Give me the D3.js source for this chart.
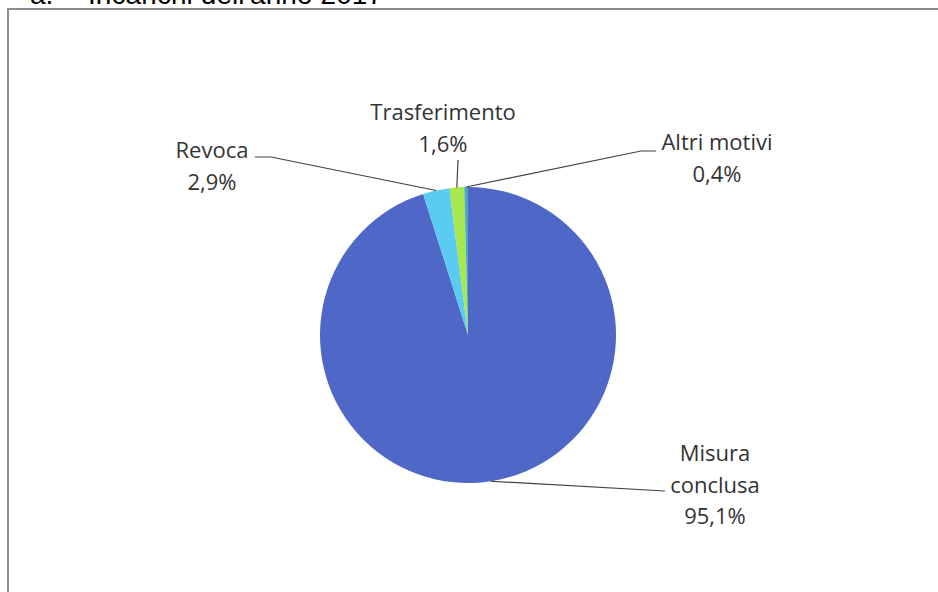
<!DOCTYPE html>
<html>
<head>
<meta charset="utf-8">
<script src="https://cdn.jsdelivr.net/npm/d3@7"></script>
<style>
  body { margin: 0; background: #fff; }
  svg { display: block; }
</style>
</head>
<body>
<script>
// data
var categories = ["Misura conclusa", "Revoca", "Trasferimento", "Altri motivi"];
var values = [95.1, 2.9, 1.6, 0.4];
var valueLabels = ["95,1%", "2,9%", "1,6%", "0,4%"];
var colors = ["#4f68c8", "#5ccbf2", "#a7e84f", "#4ba9c6"];

var W = 938, H = 592;
var cx = 468, cy = 335, R = 148;

// label layout: text anchor point, lines, and leader elbow/end
var labelLayout = {
  "Misura conclusa": { x: 715, y: 461, lines: ["Misura", "conclusa"], leader: [[665, 491]] },
  "Revoca":          { x: 212, y: 158, lines: ["Revoca"], leader: [[271, 157], [255, 157]] },
  "Trasferimento":   { x: 443, y: 120, lines: ["Trasferimento"], leader: [[458, 160]] },
  "Altri motivi":    { x: 717, y: 150, lines: ["Altri motivi"], leader: [[641, 151], [656, 151]] }
};

var svg = d3.select("body").append("svg")
  .attr("width", W)
  .attr("height", H);

// title, cropped at the top edge like in the source
var title = svg.append("g")
  .style("font-family", "Liberation Sans, Arial, sans-serif")
  .style("font-size", "28px")
  .style("fill", "#000");
title.append("text").attr("x", 30).attr("y", 4).text("a.");
title.append("text").attr("x", 88).attr("y", 4).attr("textLength", 295).text("Incarichi dell'anno 2017");

// chart frame (runs off right and bottom)
svg.append("rect")
  .attr("x", 8)
  .attr("y", 9)
  .attr("width", 1000)
  .attr("height", 700)
  .attr("fill", "none")
  .attr("stroke", "#8c8c8c")
  .attr("stroke-width", 2);

var pie = d3.pie().sort(null).value(function(d) { return d; });
var arcs = pie(values);

var arc = d3.arc().innerRadius(0).outerRadius(R);
var edge = d3.arc().innerRadius(R).outerRadius(R);

var g = svg.append("g").attr("transform", "translate(" + cx + "," + cy + ")");

g.selectAll("path")
  .data(arcs)
  .enter()
  .append("path")
  .attr("d", arc)
  .attr("fill", function(d, i) { return colors[i]; });

// leader lines
var line = d3.line();
svg.selectAll("path.leader")
  .data(arcs)
  .enter()
  .append("path")
  .attr("class", "leader")
  .attr("fill", "none")
  .attr("stroke", "#404040")
  .attr("stroke-width", 1.2)
  .attr("d", function(d, i) {
    var c = edge.centroid(d);
    var pts = [[cx + c[0], cy + c[1]]].concat(labelLayout[categories[i]].leader);
    return line(pts);
  });

// labels
var lineH = 31.5;
categories.forEach(function(name, i) {
  var L = labelLayout[name];
  var t = svg.append("text")
    .attr("text-anchor", "middle")
    .style("font-family", "Open Sans, sans-serif")
    .style("font-size", "22px")
    .style("fill", "#333");
  L.lines.concat([valueLabels[i]]).forEach(function(s, k) {
    t.append("tspan")
      .attr("x", L.x)
      .attr("y", L.y + k * lineH)
      .text(s);
  });
});
</script>
</body>
</html>
